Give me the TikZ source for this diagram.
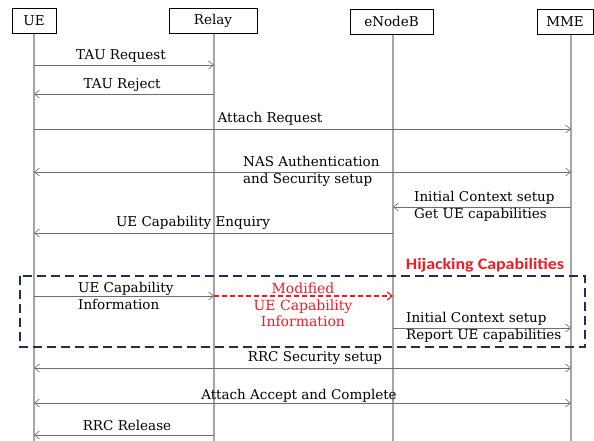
\documentclass[tikz,border=0pt]{standalone}
\usepackage{fontspec}
\setmainfont{DejaVu Serif}
\newfontfamily\hijackfont[FakeStretch=1.12]{Carlito}
\usetikzlibrary{arrows.meta}

\definecolor{lifegray}{HTML}{A6A6A6}
\definecolor{msggray}{HTML}{6E6E6E}
\definecolor{hijackred}{HTML}{EE1C24}
\definecolor{navy}{HTML}{1F2F5C}

\tikzset{
  entity/.style={draw=black, line width=0.9pt, fill=white, minimum height=25pt,
    inner sep=0pt, font=\fontsize{13.5}{16}\selectfont},
  lifeline/.style={draw=lifegray, line width=1.4pt},
  msg/.style={draw=msggray, line width=0.8pt,
    -{Straight Barb[length=5pt,width=8pt,line width=0.6pt]}},
  msgboth/.style={draw=msggray, line width=0.8pt,
    {Straight Barb[length=5pt,width=8pt,line width=0.6pt]}-{Straight Barb[length=5pt,width=8pt,line width=0.6pt]}},
  modmsg/.style={draw=hijackred, line width=1.1pt, dash pattern=on 5pt off 3pt,
    -{Straight Barb[length=5pt,width=8pt,line width=1.1pt]}},
  lbl/.style={inner sep=0pt, font=\fontsize{13.5}{16.5}\selectfont, text=black},
  redlbl/.style={lbl, font=\fontsize{14}{16.5}\selectfont, text=hijackred, align=center},
  hijackbox/.style={draw=navy, line width=2.6pt, dash pattern=on 9pt off 5pt},
}

\begin{document}
\begin{tikzpicture}[x=1pt, y=-1pt]
  \useasboundingbox (0,0) rectangle (594,441);

  % lifeline heads
  \coordinate (ueTop) at (34,33);
  \coordinate (relayTop) at (214,33);
  \coordinate (enbTop) at (393,34);
  \coordinate (mmeTop) at (571,34);
  \coordinate (ueEnd) at (34,441);
  \coordinate (relayEnd) at (214,441);
  \coordinate (enbEnd) at (393,441);
  \coordinate (mmeEnd) at (571,441);

  % lifelines
  \draw[lifeline] (ueTop) -- (ueEnd);
  \draw[lifeline] (relayTop) -- (relayEnd);
  \draw[lifeline] (enbTop) -- (enbEnd);
  \draw[lifeline] (mmeTop) -- (mmeEnd);

  % entities
  \node[entity, minimum width=44pt] (ue) at (34,20.5) {UE};
  \node[entity, minimum width=88pt] (relay) at (213,20.5) {Relay};
  \node[entity, minimum width=83pt] (enb) at (391.5,21.5) {eNodeB};
  \node[entity, minimum width=56pt] (mme) at (565,21.5) {MME};

  % TAU exchange
  \draw[msg] (ueTop |- 0,65) -- (relayTop |- 0,65);
  \node[lbl] (tauReq) at (121,56) {TAU Request};
  \draw[msg] (relayTop |- 0,94) -- (ueTop |- 0,94);
  \node[lbl] (tauRej) at (122,85) {TAU Reject};

  % attach
  \draw[msg] (ueTop |- 0,129) -- (mmeTop |- 0,129);
  \node[lbl] (attReq) at (270,119) {Attach Request};

  \draw[msgboth] (ueTop |- 0,172) -- (mmeTop |- 0,172);
  \node[lbl, anchor=west, align=left] (nas) at (243,171.5) {NAS Authentication\\and Security setup};

  \draw[msg] (mmeTop |- 0,207) -- (enbTop |- 0,207);
  \node[lbl, anchor=west, align=left] (ics1) at (414,206.5) {Initial Context setup\\Get UE capabilities};

  \draw[msg] (enbTop |- 0,233) -- (ueTop |- 0,233);
  \node[lbl] (capEnq) at (193,223) {UE Capability Enquiry};

  % hijacking region
  \node[inner sep=0pt, text=hijackred, font=\hijackfont\fontsize{16}{18}\selectfont\bfseries]
    (hijack) at (485,265) {Hijacking Capabilities};
  \draw[hijackbox] (20,276) rectangle (585,347);

  \draw[msg] (ueTop |- 0,296) -- (relayTop |- 0,296);
  \node[lbl, anchor=west, align=left] (capInfo) at (78,296) {UE Capability\\Information};

  \draw[modmsg] (relayTop |- 0,296) -- (enbTop |- 0,296);
  \node[redlbl] (modInfo) at (303,305) {Modified\\UE Capability\\Information};

  \draw[msg] (enbTop |- 0,328) -- (mmeTop |- 0,328);
  \node[lbl, anchor=west, align=left] (ics2) at (406,327.5) {Initial Context setup\\Report UE capabilities};

  % completion
  \draw[msgboth] (ueTop |- 0,368) -- (mmeTop |- 0,368);
  \node[lbl] (rrcSec) at (315,358) {RRC Security setup};

  \draw[msgboth] (ueTop |- 0,403) -- (mmeTop |- 0,403);
  \node[lbl] (attAcc) at (299,396) {Attach Accept and Complete};

  \draw[msg] (relayTop |- 0,435) -- (ueTop |- 0,435);
  \node[lbl] (rrcRel) at (127,425) {RRC Release};
\end{tikzpicture}
\end{document}
